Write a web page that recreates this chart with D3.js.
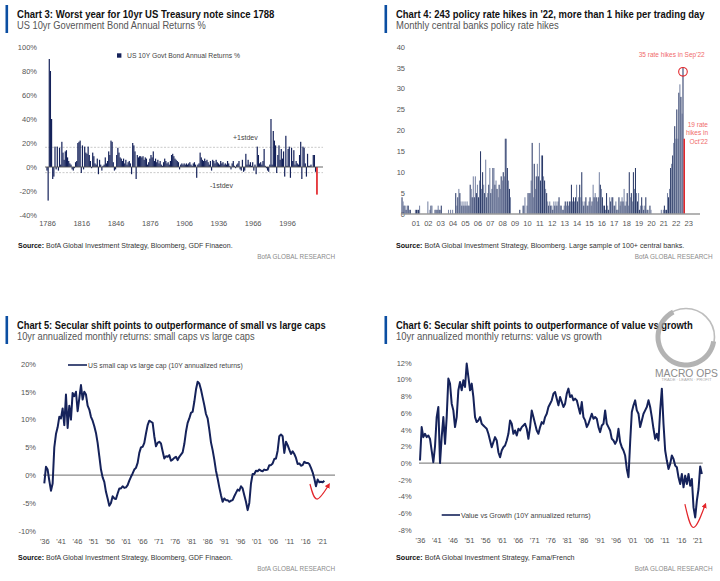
<!DOCTYPE html>
<html lang="en">
<head>
<meta charset="UTF-8">
<title>BofA Global Research charts</title>
<script src="https://d3js.org/d3.v7.min.js"></script>
<style>
  body { margin: 0; background: #fff; }
  svg text { font-family: "Liberation Sans", Arial, sans-serif; }
  .tick text { fill: #555; }
</style>
</head>
<body>
<svg id="chart" width="720" height="581"></svg>
<script>
// ---- Chart 3: US 10yr annual returns %, one value per year from 1786
const bondStartYear = 1786;
const bondReturns = [
  -3, -28, 90, 80, 40, -10, -8, 17, -2, 17,
  -3, 16, 2, 21, 12, 6, 13, 14, 8, 5,
  3, 2, -2, -3, -1, 4, 5, 20, 21, 22,
  -5, 18, -2, 17, 12, 11, 17, 10, 5, -1,
  12, 9, 3, 2, 7, -6, 6, 2, -3, 1,
  2, 8, 3, 5, 13, 10, 22, 21, 4, -3,
  -2, 10, 16, 12, 8, 7, 5, 7, 3, 6,
  2, 4, 5, 3, -6, 20, 18, 13, -10, 10,
  8, 9, 9, 8, 9, 6, 8, 7, 2, 4,
  7, 10, 8, 13, 5, 7, 4, 6, 3, 5,
  2, 1, 4, 7, 5, 3, 4, 2, 5, 10,
  11, 9, 7, 6, 5, 4, -2, 2, 3, 2, 3,
  2, 3, 2, 3, 4, 2, 1, 3, 4, 2,
  -9, 2, 3, 12, 8, 6, 5, 7, 5, 6,
  4, 2, 5, -3, 6, 5, 3, 6, 4, 3,
  2, 5, 3, 4, 2, 3, 2, 5, 3, 1,
  -2, 3, 5, 1, -1, 2, 3, 5, -2, -3,
  6, -4, -3, 11, 2, 6, 2, 4, 1, 4,
  -3, 2, -6, 17, 10, 3, 4, 2, 5, 15,
  1, -1, -3, -4, 2, 40, 2, 30, 22, 18,
  -5, 10, 18, 6, 15, 7, 13, -8, 26, 1,
  15, 17, -9, 16, 5, 14, 2, 5, 3, 2,
  10, 21, -10, 17, 16, 3, -8, 11, 1, 1,
  2, 0, 10, 10, -4, -23
];
const bondStdev = [-4.7, 16.4];
const bondYTicks = [-40, -20, 0, 20, 40, 60, 80, 100];
const bondXTicks = [1786, 1816, 1846, 1876, 1906, 1936, 1966, 1996];

// ---- Chart 4: monthly policy rate hikes, Jan 2000 .. Oct 2022
const rateHikes = [
  4, 3, 2, 2, 1, 2, 2, 1, 1, 0, 0, 0,        // 2000
  0, 1, 1, 1, 1, 2, 0, 0, 0, 0, 0, 0,        // 2001
  0, 3, 0, 1, 2, 2, 0, 0, 1, 1, 1, 2,        // 2002
  1, 1, 2, 0, 0, 0, 0, 0, 0, 1, 0, 1,        // 2003
  0, 1, 0, 0, 5, 2, 4, 6, 5, 3, 2, 3,        // 2004
  2, 3, 2, 3, 2, 2, 7, 6, 4, 9, 4, 9,        // 2005
  5, 7, 4, 8, 15, 6, 10, 7, 5, 13, 4, 5,     // 2006
  7, 11, 5, 6, 11, 11, 7, 8, 6, 4, 7, 6,     // 2007
  9, 8, 10, 9, 18, 18, 11, 8, 6, 4, 0, 0,    // 2008
  0, 0, 0, 0, 0, 0, 1, 0, 0, 2, 2, 4,        // 2009
  0, 2, 5, 5, 5, 8, 17, 4, 12, 6, 9, 12,     // 2010
  9, 17, 8, 14, 14, 9, 8, 6, 5, 3, 2, 3,     // 2011
  2, 2, 1, 3, 2, 3, 2, 3, 4, 2, 2, 1,        // 2012
  1, 2, 3, 2, 3, 2, 3, 3, 7, 3, 4, 3,        // 2013
  4, 7, 3, 4, 7, 4, 10, 3, 2, 3, 4, 2,       // 2014
  2, 3, 4, 2, 3, 7, 4, 5, 4, 3, 4, 10,       // 2015
  7, 6, 4, 2, 2, 1, 5, 2, 1, 4, 3, 4,        // 2016
  4, 2, 2, 3, 1, 1, 4, 2, 3, 4, 3, 6,        // 2017
  2, 3, 5, 2, 10, 4, 5, 3, 10, 6, 11, 5,     // 2018
  3, 5, 1, 2, 4, 2, 1, 2, 4, 1, 1, 0,        // 2019
  2, 1, 0, 0, 0, 0, 0, 0, 0, 0, 0, 1,        // 2020
  0, 1, 2, 1, 1, 5, 4, 6, 11, 12, 14, 17,    // 2021
  21, 18, 25, 18, 29, 31, 28, 24, 35, 18     // 2022
];
const hikeYTicks = [0, 5, 10, 15, 20, 25, 30, 35, 40];
const hikeXLabels = ["01","02","03","04","05","06","07","08","09","10","11","12",
  "13","14","15","16","17","18","19","20","21","22","23"];

// ---- Chart 5: small vs large caps, 10y annualized (%), evenly spaced 1936..2021.8
const smallSpan = [1936.0, 2021.8];
const smallVsLarge = [
  -1.5, 1.5, 1.0, -1.0, -2.8, -1.5, 5.0, 7.4, 8.6, 10.5,
  10.2, 12.0, 9.0, 14.5, 8.5, 12.5, 10.0, 14.8, 14.2, 15.0,
  11.5, 13.8, 16.2, 13.6, 15.0, 14.5, 12.5, 11.8, 10.5, 9.8,
  8.8, 7.6, 5.8, 3.4, 1.0, -0.4, -1.2, -3.0, -4.2, -5.5,
  -5.0, -3.8, -4.2, -4.3, -3.3, -2.4, -2.4, -2.0, -2.3, -2.2,
  -1.8, -1.0, -0.3, 0.3, 1.0, 1.3, 2.2, 4.0, 5.0, 5.1,
  5.8, 7.5, 9.0, 9.8, 9.6, 9.4, 7.0, 5.2, 5.8, 6.0,
  5.7, 4.3, 3.0, 3.4, 3.3, 3.6, 2.6, 2.8, 3.1, 3.3,
  2.7, 3.3, 3.7, 4.1, 5.6, 7.8, 9.4, 10.2, 11.2, 11.4,
  13.2, 15.4, 16.8, 16.5, 15.4, 14.0, 12.6, 11.0, 10.2, 8.2,
  5.9, 4.5, 2.8, 0.8, -0.6, -2.2, -3.6, -4.8, -4.2, -4.5,
  -4.5, -4.8, -4.6, -4.5, -3.8, -3.2, -2.6, -2.8, -2.0, -2.4,
  -3.6, -4.8, -6.3, -5.0, -1.5, 0.2, 0.2, 0.8, 0.7, 1.0,
  0.8, 0.7, 1.0, 0.9, 1.0, 1.8, 1.8, 2.1, 2.9, 3.0,
  4.4, 7.0, 7.3, 7.0, 4.0, 6.0, 5.4, 4.6, 3.8, 4.3,
  3.8, 3.1, 2.0, 2.1, 1.7, 1.8, 2.4, 2.2, 2.2, 2.0,
  1.3, 0.5, -0.6, -2.0, -0.8, -1.3, -1.2, -1.3, -1.0
];
const smallYTicks = [-10, -5, 0, 5, 10, 15, 20];

// ---- Chart 6: value vs growth, 10y annualized (%), evenly spaced 1936..2022.4
const valueSpan = [1936.0, 2022.4];
const valueVsGrowth = [
  0.3, 4.3, 3.1, 3.5, 3.1, 3.3, 2.9, 1.5, 0.1, 2.0,
  5.5, 6.7, 0.0, 3.1, 5.5, 2.3, 5.5, 10.1, 9.5, 7.1,
  6.3, 4.3, 5.5, 8.7, 9.7, 8.7, 9.9, 9.1, 11.9, 10.3,
  8.7, 9.5, 7.9, 5.5, 4.9, 5.1, 5.5, 4.7, 4.5, 4.3,
  4.1, 3.5, 2.7, 1.9, 2.5, 3.1, 2.7, 1.3, 0.7, 1.5,
  1.9, 2.1, 2.7, 3.5, 5.1, 4.7, 3.5, 3.9, 3.3, 4.1,
  3.9, 4.3, 4.5, 4.7, 4.1, 2.9, 4.3, 6.3, 5.5, 4.7,
  3.9, 3.5, 4.3, 4.9, 4.7, 5.5, 5.9, 6.7, 7.1, 7.5,
  8.3, 8.5, 7.7, 6.9, 7.9, 7.3, 6.7, 7.1, 8.3, 8.9,
  7.9, 8.1, 7.5, 7.7, 7.5, 6.7, 5.9, 7.3, 5.5, 5.1,
  4.3, 4.7, 5.3, 5.9, 5.3, 5.5, 5.3, 4.3, 3.7, 4.5,
  4.7, 6.3, 4.7, 4.3, 3.9, 2.9, 2.7, 2.3, 2.7, 4.1,
  2.5, 1.9, 1.5, 0.9, -0.7, -1.7, 2.5, 6.1, 6.9, 7.5,
  6.3, 5.9, 4.3, 5.1, 5.9, 6.3, 6.7, 7.5, 6.7, 5.5,
  4.1, 2.9, 3.5, 2.7, 6.3, 8.9, 4.7, 1.5, 0.3, -0.7,
  -0.1, 0.9, 0.5, -0.3, -0.5, -1.7, -2.5, -1.3, -2.9, -1.5,
  -2.5, -1.3, -2.7, -1.9, -5.3, -6.5, -4.5, -3.1, -0.4, -1.3
];
const valueYTicks = [-8, -6, -4, -2, 0, 2, 4, 6, 8, 10, 12];
const decadeTicks = d3.range(1936, 2022, 5);

const svg = d3.select("#chart");
const navy = "#15225a";
const bofaBlue = "#0b4ea2";
const red = "#e3262b";
const narrow = "'Liberation Sans Narrow', 'Liberation Sans', Arial, sans-serif";

// squeeze a text horizontally to a wanted width (keeps the real glyph box)
function fitWidth(t, x, y, width) {
  const natural = t.node().getComputedTextLength();
  const sx = natural > 0 ? width / natural : 1;
  t.attr("x", 0).attr("y", 0).attr("transform", `translate(${x},${y}) scale(${sx},1)`);
}

function addText(x, y, str, o = {}) {
  const t = svg.append("text")
    .attr("x", x).attr("y", y)
    .attr("font-size", o.size || 7)
    .attr("fill", o.fill || "#555")
    .attr("text-anchor", o.anchor || "start")
    .text(str);
  if (o.bold) t.attr("font-weight", "bold");
  if (o.family) t.attr("font-family", o.family);
  if (o.width) fitWidth(t, x, y, o.width);
  return t;
}

function header(x, y0, title, sub, titleW, subW) {
  svg.append("rect").attr("x", x - 11.5).attr("y", y0).attr("width", 2.6).attr("height", 28).attr("fill", bofaBlue);
  addText(x, y0 + 12.5, title, { size: 10.5, bold: true, fill: "#111", family: narrow, width: titleW });
  addText(x, y0 + 23.5, sub, { size: 10, fill: "#555", family: narrow, width: subW });
}

function footer(x, y, rest, width, rightX) {
  const t = svg.append("text").attr("font-size", 7);
  t.append("tspan").attr("font-weight", "bold").attr("fill", "#111").text("Source: ");
  t.append("tspan").attr("fill", "#333").text(rest);
  fitWidth(t, x, y, width);
  addText(rightX, y + 11, "BofA GLOBAL RESEARCH", { size: 7, fill: "#8a8a8a", anchor: "end", family: narrow, width: 78 });
}

function yAxis(scale, ticks, rightEdge, fmt) {
  svg.append("g")
    .attr("transform", `translate(${rightEdge + 2},0)`)
    .call(d3.axisLeft(scale).tickValues(ticks).tickSize(0).tickPadding(2).tickFormat(fmt))
    .call(g => g.select(".domain").remove())
    .selectAll("text").attr("font-size", 7.5);
}

function xAxis(scale, ticks, y, fmt) {
  svg.append("g")
    .attr("transform", `translate(0,${y})`)
    .call(d3.axisBottom(scale).tickValues(ticks).tickSize(0).tickPadding(0).tickFormat(fmt))
    .call(g => g.select(".domain").remove())
    .selectAll("text").attr("font-size", 7.5);
}

const defs = svg.append("defs");
defs.append("marker").attr("id", "arrow")
  .attr("viewBox", "0 0 10 10").attr("refX", 4).attr("refY", 5)
  .attr("markerWidth", 4.5).attr("markerHeight", 4.5)
  .attr("orient", "auto")
  .append("path").attr("d", "M0,0L10,5L0,10z").attr("fill", red);

// ================= Chart 3 =================
header(17, 5, "Chart 3: Worst year for 10yr  US Treasury note since 1788",
  "US 10yr Government Bond Annual Returns %", 258, 189);

const x3 = d3.scaleLinear().domain([1786, 2022]).range([47, 316.7]);
const y3 = d3.scaleLinear().domain([-40, 100]).range([215, 47]);

yAxis(y3, bondYTicks, 37, d => d + "%");
xAxis(x3, bondXTicks, 221, d3.format("d"));

svg.append("g").selectAll("line").data(bondStdev).join("line")
  .attr("x1", 45).attr("x2", 323)
  .attr("y1", d => y3(d)).attr("y2", d => y3(d))
  .attr("stroke", "#bdbdbd").attr("stroke-width", 0.8).attr("stroke-dasharray", "2,1.5");

svg.append("g").selectAll("rect").data(bondReturns).join("rect")
  .attr("x", (d, i) => x3(bondStartYear + i) - 0.6)
  .attr("width", (d, i) => i === bondReturns.length - 1 ? 1.7 : 1.2)
  .attr("y", d => y3(Math.max(0, d)))
  .attr("height", d => Math.abs(y3(d) - y3(0)))
  .attr("fill", (d, i) => i === bondReturns.length - 1 ? red : navy);

svg.append("line").attr("x1", 45).attr("x2", 323).attr("y1", y3(0)).attr("y2", y3(0))
  .attr("stroke", "#555").attr("stroke-width", 0.9);

addText(233, y3(bondStdev[1]) - 7, "+1stdev", { size: 7, fill: "#444" });
addText(210, y3(bondStdev[0]) + 15, "-1stdev", { size: 7, fill: "#444" });

svg.append("rect").attr("x", 117).attr("y", 53.3).attr("width", 4.4).attr("height", 4.4).attr("fill", navy);
addText(127, 58, "US 10Y Govt Bond Annual Returns %", { size: 7, fill: "#444", width: 113 });

footer(18, 248, "BofA Global Investment Strategy, Bloomberg, GDF Finaeon.", 215, 335);

// ================= Chart 4 =================
header(396, 5, "Chart 4: 243 policy rate hikes in '22, more than 1 hike per trading day",
  "Monthly central banks policy rate hikes", 309, 163);

const x4 = d3.scaleLinear().domain([0, rateHikes.length - 1]).range([402, 684]);
const y4 = d3.scaleLinear().domain([0, 40]).range([214, 46.7]);

yAxis(y4, hikeYTicks, 405, d3.format("d"));
xAxis(x4, hikeXLabels.map((d, i) => (i + 1) * 12 + 1), 221, v => hikeXLabels[(v - 1) / 12 - 1]);

const lastHike = rateHikes.length - 1;
svg.append("g").selectAll("rect").data(rateHikes).join("rect")
  .attr("x", (d, i) => x4(i) - 0.5)
  .attr("width", (d, i) => i === lastHike ? 1.5 : 1.05)
  .attr("y", d => y4(d))
  .attr("height", d => y4(0) - y4(d))
  .attr("fill", (d, i) => i === lastHike ? red : (i % 2 ? "#7a86a6" : "#2c3b68"));

svg.append("line").attr("x1", 401).attr("x2", 700).attr("y1", y4(0)).attr("y2", y4(0))
  .attr("stroke", "#9a9a9a").attr("stroke-width", 1.3);

svg.append("circle").attr("cx", x4(lastHike - 1)).attr("cy", y4(34))
  .attr("r", 4.3).attr("fill", "none").attr("stroke", red).attr("stroke-width", 1.1);
addText(671.7, 57, "35 rate hikes in Sep'22", { size: 6.5, fill: "#f06a6a", anchor: "middle", width: 66 });
addText(708, 127.3, "19 rate", { size: 6.5, fill: "#f06a6a", anchor: "end" });
addText(708, 135, "hikes in", { size: 6.5, fill: "#f06a6a", anchor: "end" });
addText(708, 144, "Oct'22", { size: 6.5, fill: "#f06a6a", anchor: "end" });

footer(396, 248, "BofA Global Investment Strategy, Bloomberg. Large sample of 100+ central banks.", 289, 712.5);

// ================= Chart 5 =================
header(17, 316, "Chart 5: Secular shift points to outperformance of small vs large caps",
  "10yr annualized monthly returns: small caps vs large caps", 309, 238);

const x5 = d3.scaleLinear().domain([1936, 2021]).range([44.3, 321.7]);
const y5 = d3.scaleLinear().domain([-10, 20]).range([530.7, 364]);
const yearFmt = d => "'" + String(d).slice(2);

yAxis(y5, smallYTicks, 36, d => d + "%");
xAxis(x5, decadeTicks, 538.5, yearFmt);

svg.append("line").attr("x1", 43).attr("x2", 335).attr("y1", y5(0)).attr("y2", y5(0))
  .attr("stroke", "#8a8a8a").attr("stroke-width", 1.3);

const t5 = i => smallSpan[0] + i * (smallSpan[1] - smallSpan[0]) / (smallVsLarge.length - 1);
svg.append("path").datum(smallVsLarge)
  .attr("fill", "none").attr("stroke", navy).attr("stroke-width", 2).attr("stroke-linejoin", "round")
  .attr("d", d3.line().x((d, i) => x5(t5(i))).y(d => y5(d)));

svg.append("path")
  .datum([[2017.4, -1.6], [2019.5, -4.3], [2023.0, -1.9]])
  .attr("fill", "none").attr("stroke", red).attr("stroke-width", 1.2)
  .attr("marker-end", "url(#arrow)")
  .attr("d", d3.line().curve(d3.curveNatural).x(d => x5(d[0])).y(d => y5(d[1])));

svg.append("line").attr("x1", 68).attr("x2", 87).attr("y1", 365).attr("y2", 365)
  .attr("stroke", navy).attr("stroke-width", 1.6);
addText(88, 367.5, "US small cap vs large cap (10Y annualized returns)", { size: 7, fill: "#444", width: 155 });

footer(18, 559.5, "BofA Global Investment Strategy, Bloomberg, GDF Finaeon.", 215, 335);

// ================= Chart 6 =================
header(396, 316, "Chart 6: Secular shift points to outperformance of value vs growth",
  "10yr annualized monthly returns: value vs growth", 297, 206);

const x6 = d3.scaleLinear().domain([1936, 2021]).range([420, 697.3]);
const y6 = d3.scaleLinear().domain([-8, 12]).range([530, 362.7]);

yAxis(y6, valueYTicks, 411.7, d => d + "%");
xAxis(x6, decadeTicks, 537.3, yearFmt);

svg.append("line").attr("x1", 419).attr("x2", 702.7).attr("y1", y6(0)).attr("y2", y6(0))
  .attr("stroke", "#8a8a8a").attr("stroke-width", 1.3);

const t6 = i => valueSpan[0] + i * (valueSpan[1] - valueSpan[0]) / (valueVsGrowth.length - 1);
svg.append("path").datum(valueVsGrowth)
  .attr("fill", "none").attr("stroke", navy).attr("stroke-width", 2).attr("stroke-linejoin", "round")
  .attr("d", d3.line().x((d, i) => x6(t6(i))).y(d => y6(d)));

svg.append("path")
  .datum([[2017.2, -4.9], [2019.8, -7.7], [2023.3, -5.1]])
  .attr("fill", "none").attr("stroke", red).attr("stroke-width", 1.2)
  .attr("marker-end", "url(#arrow)")
  .attr("d", d3.line().curve(d3.curveNatural).x(d => x6(d[0])).y(d => y6(d[1])));

svg.append("line").attr("x1", 441.7).attr("x2", 460).attr("y1", 515).attr("y2", 515)
  .attr("stroke", navy).attr("stroke-width", 1.6);
addText(461, 517.5, "Value vs Growth (10Y annualized returns)", { size: 7, fill: "#444", width: 130 });

footer(396, 559.5, "BofA Global Investment Strategy, Fama/French", 179, 712.5);

// Macro Ops watermark
const wm = svg.append("g").attr("opacity", 0.75);
wm.append("circle").attr("cx", 686).attr("cy", 337).attr("r", 28.5)
  .attr("fill", "none").attr("stroke", "#a8a8a8").attr("stroke-width", 1.6);
wm.append("path")
  .attr("d", d3.arc().innerRadius(25.5).outerRadius(30.5).startAngle(Math.PI * 0.55).endAngle(Math.PI * 1.85)())
  .attr("transform", "translate(686,337)").attr("fill", "#9a9a9a");
addText(686.5, 376.7, "MACRO OPS", { size: 10.5, fill: "#8c8c8c", anchor: "middle",
  family: "'Liberation Serif', 'DejaVu Serif', serif", width: 63 });
addText(686.5, 380.5, "TRADE  ·  LEARN  ·  PROFIT", { size: 2.6, fill: "#aaa", anchor: "middle", width: 50 });
</script>
</body>
</html>
